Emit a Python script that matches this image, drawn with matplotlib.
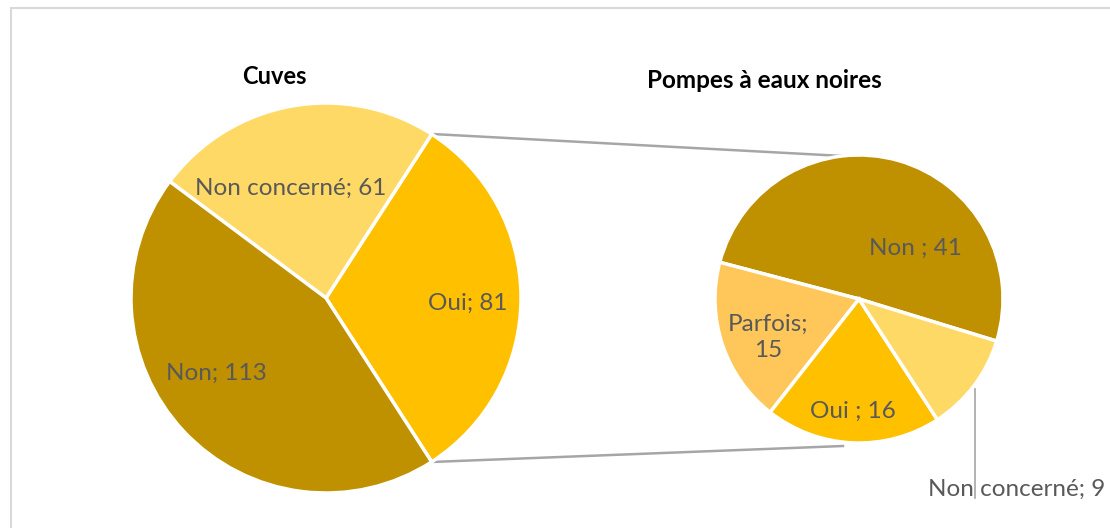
import matplotlib
matplotlib.use("Agg")
import matplotlib.pyplot as plt
import numpy as np

# ---- data ----
left_title = "Cuves"
left_labels = ["Oui", "Non concerné", "Non"]
left_values = [81, 61, 113]
left_colors = ["#FFC000", "#FFD966", "#BF9000"]

right_title = "Pompes à eaux noires"
right_labels = ["Non ", "Parfois", "Oui ", "Non concerné"]
right_values = [41, 15, 16, 9]
right_colors = ["#BF9000", "#FFC65A", "#FFC000", "#FFD966"]

W, H = 1110, 528
fig = plt.figure(figsize=(W / 100, H / 100), dpi=100)
ax = fig.add_axes([0, 0, 1, 1])
ax.set_xlim(0, W)
ax.set_ylim(0, H)
ax.set_aspect("equal")
ax.axis("off")

def Y(y):
    return H - y

FONT = "Lato"
TXT = "#595959"

# chart border (top and left visible)
ax.plot([10.5, 10.5, W + 5], [-5, Y(7.5), Y(7.5)], color="#D9D9D9", lw=1.5,
        solid_joinstyle="miter")

# left pie
c1 = (326, Y(298))
r1 = 195
first_angle = 360 * left_values[0] / sum(left_values)
start1 = -first_angle / 2
ax.pie(left_values, colors=left_colors, startangle=start1, counterclock=True,
       center=c1, radius=r1, frame=True,
       wedgeprops=dict(edgecolor="white", linewidth=2.5))

# right pie
c2 = (859, Y(299))
r2 = 144
start2 = -17
ax.pie(right_values, colors=right_colors, startangle=start2, counterclock=True,
       center=c2, radius=r2, frame=True,
       wedgeprops=dict(edgecolor="white", linewidth=2.5))

ax.set_xlim(0, W)
ax.set_ylim(0, H)
ax.axis("off")

# connector lines
a = np.deg2rad(first_angle / 2)
p_top = (c1[0] + r1 * np.cos(a) + 3, c1[1] + r1 * np.sin(a))
p_bot = (c1[0] + r1 * np.cos(a) + 3, c1[1] - r1 * np.sin(a))
q_top = (c2[0] - 16, c2[1] + r2 - 1)
q_bot = (c2[0] - 16, c2[1] - r2 - 3)
for p, q in [(p_top, q_top), (p_bot, q_bot)]:
    ax.plot([p[0], q[0]], [p[1], q[1]], color="#A6A6A6", lw=1.8, zorder=0)

# titles
ax.text(274, Y(76), left_title, fontsize=17, fontweight="bold", family=FONT,
        ha="center", va="center", color="black")
ax.text(764, Y(80), right_title, fontsize=17.5, fontweight="bold", family=FONT,
        ha="center", va="center", color="black")

# data labels
fs = 17.5
def lab(x, y, s):
    ax.text(x, Y(y), s, fontsize=fs, family=FONT, ha="center", va="center",
            color=TXT, linespacing=1.3)

lab(291, 188, f"{left_labels[1]}; {left_values[1]}")
lab(468, 303, f"{left_labels[0]}; {left_values[0]}")
lab(216, 373, f"{left_labels[2]}; {left_values[2]}")

lab(915, 248, f"{right_labels[0]}; {right_values[0]}")
lab(768, 337, f"{right_labels[1]};\n{right_values[1]}")
lab(853, 411, f"{right_labels[2]}; {right_values[2]}")

# leader line + outside label
ax.plot([975, 975], [Y(389), Y(498)], color="#A6A6A6", lw=1.2)
lab(1017, 489, f"{right_labels[3]}; {right_values[3]}")

fig.savefig("out.png", dpi=100, facecolor="white")
